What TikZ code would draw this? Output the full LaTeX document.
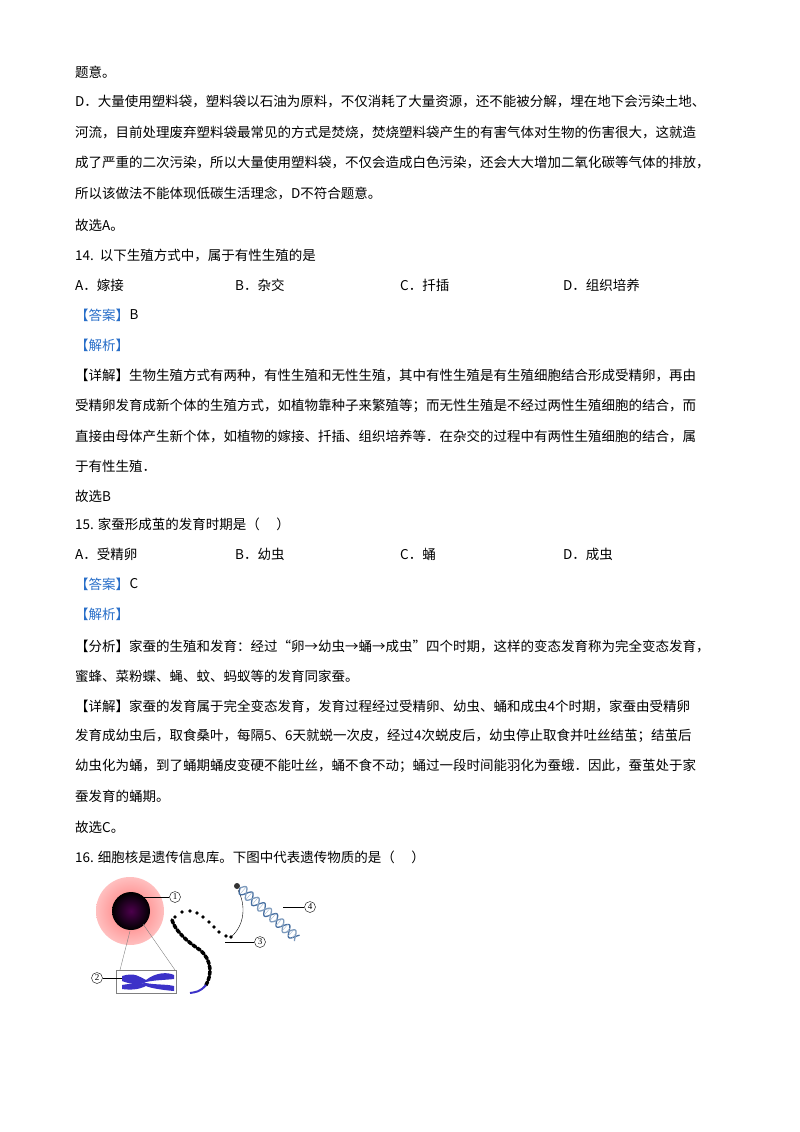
\documentclass[tikz,border=0pt]{standalone}
\usepackage{fontspec}
\setmainfont{Liberation Serif}
\newfontfamily\cjk{Noto Sans CJK SC}
\usetikzlibrary{positioning}
\definecolor{tagBlue}{RGB}{40,110,200}
\definecolor{chromBlue}{RGB}{60,50,200}
\definecolor{helixBlue}{RGB}{70,110,160}
\begin{document}
\begin{tikzpicture}[x=1pt,y=-1pt,%%
  txtStyle/.style={anchor=west,inner sep=0pt,font=\cjk\fontsize{13.5}{14}\selectfont},%%
  tagStyle/.style={txtStyle,text=tagBlue},%%
  numStyle/.style={circle,draw,inner sep=0pt,minimum size=11pt,font=\fontsize{9}{9}\selectfont},%%
  leadStyle/.style={-,thin}%%
]
\useasboundingbox (0,0) rectangle (800,1132);
%%
%% Text before the figure.
\node[txtStyle] (l1) at (75,72) {题意。};
\node[txtStyle] (l2) at (75,102) {D．大量使用塑料袋，塑料袋以石油为原料，不仅消耗了大量资源，还不能被分解，埋在地下会污染土地、};
\node[txtStyle] (l3) at (75,132) {河流，目前处理废弃塑料袋最常见的方式是焚烧，焚烧塑料袋产生的有害气体对生物的伤害很大，这就造};
\node[txtStyle] (l4) at (75,163) {成了严重的二次污染，所以大量使用塑料袋，不仅会造成白色污染，还会大大增加二氧化碳等气体的排放，};
\node[txtStyle] (l5) at (75,193) {所以该做法不能体现低碳生活理念，D不符合题意。};
\node[txtStyle] (l6) at (75,225) {故选A。};
\node[txtStyle] (q14) at (75,256) {14.\ \ 以下生殖方式中，属于有性生殖的是};
\node[txtStyle] (q14a) at (75,285) {A．嫁接};
\node[txtStyle] (q14b) at (235,285) {B．杂交};
\node[txtStyle] (q14c) at (400,285) {C．扦插};
\node[txtStyle] (q14d) at (563,285) {D．组织培养};
\node[tagStyle] (ans14) at (75,315) {【答案】};
\node[txtStyle,right=0pt of ans14] {B};
\node[tagStyle] (jx14) at (75,345) {【解析】};
\node[txtStyle] (d1) at (75,376) {【详解】生物生殖方式有两种，有性生殖和无性生殖，其中有性生殖是有生殖细胞结合形成受精卵，再由};
\node[txtStyle] (d2) at (75,406) {受精卵发育成新个体的生殖方式，如植物靠种子来繁殖等；而无性生殖是不经过两性生殖细胞的结合，而};
\node[txtStyle] (d3) at (75,436) {直接由母体产生新个体，如植物的嫁接、扦插、组织培养等．在杂交的过程中有两性生殖细胞的结合，属};
\node[txtStyle] (d4) at (75,466) {于有性生殖．};
\node[txtStyle] (d5) at (75,496) {故选B};
\node[txtStyle] (q15) at (75,524) {15. 家蚕形成茧的发育时期是（\quad\ ）};
\node[txtStyle] (q15a) at (75,554) {A．受精卵};
\node[txtStyle] (q15b) at (235,554) {B．幼虫};
\node[txtStyle] (q15c) at (400,554) {C．蛹};
\node[txtStyle] (q15d) at (563,554) {D．成虫};
\node[tagStyle] (ans15) at (75,584) {【答案】};
\node[txtStyle,right=0pt of ans15] {C};
\node[tagStyle] (jx15) at (75,614) {【解析】};
\node[txtStyle] (e1) at (75,646) {【分析】家蚕的生殖和发育：经过“卵→幼虫→蛹→成虫”四个时期，这样的变态发育称为完全变态发育，};
\node[txtStyle] (e2) at (75,676) {蜜蜂、菜粉蝶、蝇、蚊、蚂蚁等的发育同家蚕。};
\node[txtStyle] (e3) at (75,706) {【详解】家蚕的发育属于完全变态发育，发育过程经过受精卵、幼虫、蛹和成虫4个时期，家蚕由受精卵};
\node[txtStyle] (e4) at (75,736) {发育成幼虫后，取食桑叶，每隔5、6天就蜕一次皮，经过4次蜕皮后，幼虫停止取食并吐丝结茧；结茧后};
\node[txtStyle] (e5) at (75,766) {幼虫化为蛹，到了蛹期蛹皮变硬不能吐丝，蛹不食不动；蛹过一段时间能羽化为蚕蛾．因此，蚕茧处于家};
\node[txtStyle] (e6) at (75,796) {蚕发育的蛹期。};
\node[txtStyle] (e7) at (75,827) {故选C。};
\node[txtStyle] (q16) at (75,857) {16. 细胞核是遗传信息库。下图中代表遗传物质的是（\quad\ ）};
%%
%% The cell and its nucleus.
\shade[inner color=red!55,outer color=red!25] (130,911) circle (34);
\shade[inner color=violet!60!black,outer color=black] (131,911) ellipse (19 and 19);
\coordinate (nucTop) at (142,897);
\coordinate (nucLow) at (130,931);
\coordinate (nucRight) at (143,924);
%% The chromosome in its box.
\draw[gray] (116,970) rectangle (176,993);
\fill[chromBlue] (122,976) .. controls (135,972) and (140,977) .. (146,980)
  .. controls (156,972) and (168,972) .. (174,975) -- (174,979) .. controls (165,980) and (155,980) .. (146,982)
  .. controls (140,986) and (130,984) .. (122,981) -- cycle;
\fill[chromBlue] (122,985) .. controls (132,983) and (140,984) .. (146,983)
  .. controls (156,985) and (166,984) .. (174,986) -- (174,991) .. controls (162,990) and (150,988) .. (146,986)
  .. controls (138,990) and (130,990) .. (122,989) -- cycle;
\draw[leadStyle,gray] (nucLow) -- (120,970);
\draw[leadStyle,gray] (nucRight) -- (175,970);
%% The chromatin fibre.
\draw[line width=3.5pt,dotted,line cap=round] (172,920) .. controls (175,930) and (185,940) .. (200,950)
  .. controls (212,960) and (212,975) .. (206,985);
\draw[line width=2pt,chromBlue] (206,985) .. controls (200,992) and (196,992) .. (190,993);
\foreach \px/\py in {175/917,182/912,190/911,197/913,203/917,209/922,214/927,219/932,226/936,231/937}
  \fill (\px,\py) circle (1.8);
\draw[thin] (231,937) .. controls (245,925) and (246,905) .. (238,890);
%% The DNA double helix.
\draw[helixBlue,line width=1.3pt] plot[domain=0:76,samples=80] ({240+0.75*\x-0.66*5*sin(\x*22)},{888+0.66*\x+0.75*5*sin(\x*22)});
\draw[helixBlue!70,line width=1.3pt] plot[domain=0:76,samples=80] ({240+0.75*\x+0.66*5*sin(\x*22)},{888+0.66*\x-0.75*5*sin(\x*22)});
\foreach \t in {4,8,...,74}
  \draw[helixBlue!50] ({240+0.75*\t-0.66*5*sin(\t*22)},{888+0.66*\t+0.75*5*sin(\t*22)})
    -- ({240+0.75*\t+0.66*5*sin(\t*22)},{888+0.66*\t-0.75*5*sin(\t*22)});
\fill[black!80] (237,886) circle (3);
%% Number labels and their leaders.
\node[numStyle] (n1) at (175,897) {1};
\node[numStyle] (n2) at (97,978) {2};
\node[numStyle] (n3) at (260,942) {3};
\node[numStyle] (n4) at (310,907) {4};
\coordinate (fibreEnd) at (225,942);
\coordinate (helixMid) at (283,907);
\coordinate (chromLeft) at (122,978);
\draw[leadStyle] (nucTop) -- (n1);
\draw[leadStyle] (chromLeft) -- (n2);
\draw[leadStyle] (fibreEnd) -- (n3);
\draw[leadStyle] (helixMid) -- (n4);
\end{tikzpicture}
\end{document}
